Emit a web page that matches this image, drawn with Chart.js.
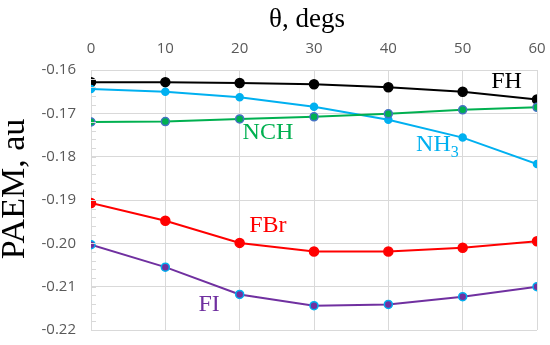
<!DOCTYPE html>
<html>
<head>
<meta charset="utf-8">
<script src="https://cdn.jsdelivr.net/npm/chart.js@4"></script>
<style>
  html, body { margin: 0; padding: 0; background: #fff; }
  #wrap { width: 550px; height: 345px; }
</style>
</head>
<body>
<div id="wrap"><canvas id="chart" width="550" height="345"></canvas></div>
<script>
const angles = [0, 10, 20, 30, 40, 50, 60];
const fhValues = [-0.1628, -0.1628, -0.1630, -0.1633, -0.1640, -0.1650, -0.1668];
const nh3Values = [-0.1644, -0.1650, -0.1663, -0.1685, -0.1715, -0.1756, -0.1817];
const nchValues = [-0.1720, -0.1719, -0.1713, -0.1708, -0.1701, -0.1692, -0.1686];
const fbrValues = [-0.1907, -0.1948, -0.1999, -0.2019, -0.2019, -0.2010, -0.1995];
const fiValues = [-0.2003, -0.2055, -0.2118, -0.2144, -0.2141, -0.2123, -0.2100];

const xTitle = "θ, degs";
const yTitle = "PAEM, au";

// series labels placed in data space
const seriesLabels = [
	{ text: "FH", sub: "", x: 55.9, y: -0.1628, color: "#000000" },
	{ text: "NCH", sub: "", x: 23.8, y: -0.1745, color: "#00b050" },
	{ text: "NH", sub: "3", x: 46.6, y: -0.1773, color: "#00b0f0" },
	{ text: "FBr", sub: "", x: 23.8, y: -0.1959, color: "#ff0000" },
	{ text: "FI", sub: "", x: 15.9, y: -0.2141, color: "#7030a0" },
];

function toPoints(values) {
	return angles.map((a, i) => ({ x: a, y: values[i] }));
}

const gridColor = "#d9d9d9";
const tickColor = "#595959";
const serif = "'Liberation Serif', 'DejaVu Serif', serif";
const sans = "'Open Sans', 'Liberation Sans', sans-serif";

// little inward minor ticks on the y axis
const minorTicks = {
	id: "minorTicks",
	afterDraw(chart) {
		const ctx = chart.ctx;
		const y = chart.scales.y;
		const left = chart.chartArea.left;
		ctx.save();
		ctx.strokeStyle = gridColor;
		ctx.lineWidth = 1;
		for (let v = -0.22; v <= -0.16 + 1e-9; v += 0.002) {
			const py = Math.round(y.getPixelForValue(v)) + 0.5;
			ctx.beginPath();
			ctx.moveTo(left, py);
			ctx.lineTo(left + 5, py);
			ctx.stroke();
		}
		ctx.restore();
	},
};

// axis titles, drawn by hand to sit where the original has them
const axisTitles = {
	id: "axisTitles",
	afterDraw(chart) {
		const ctx = chart.ctx;
		const area = chart.chartArea;
		ctx.save();
		ctx.fillStyle = "#000";
		ctx.textAlign = "center";
		ctx.textBaseline = "middle";
		ctx.font = "27px " + serif;
		ctx.fillText(xTitle, (area.left + area.right) / 2 - 7, 20);
		ctx.translate(15, (area.top + area.bottom) / 2 - 11);
		ctx.rotate(-Math.PI / 2);
		ctx.font = "34px " + serif;
		ctx.fillText(yTitle, 0, 0);
		ctx.restore();
	},
};

const seriesText = {
	id: "seriesText",
	afterDatasetsDraw(chart) {
		const ctx = chart.ctx;
		const xs = chart.scales.x;
		const ys = chart.scales.y;
		ctx.save();
		ctx.textBaseline = "middle";
		seriesLabels.forEach((l) => {
			const px = xs.getPixelForValue(l.x);
			const py = ys.getPixelForValue(l.y);
			ctx.fillStyle = l.color;
			ctx.font = "24px " + serif;
			const w = ctx.measureText(l.text).width;
			ctx.font = "16px " + serif;
			const ws = l.sub ? ctx.measureText(l.sub).width : 0;
			const start = px - (w + ws) / 2;
			ctx.textAlign = "left";
			ctx.font = "24px " + serif;
			ctx.fillText(l.text, start, py);
			if (l.sub) {
				ctx.font = "16px " + serif;
				ctx.fillText(l.sub, start + w, py + 8);
			}
		});
		ctx.restore();
	},
};

function makeSet(label, values, line, fill, border, radius) {
	return {
		label: label,
		data: toPoints(values),
		borderColor: line,
		backgroundColor: line,
		borderWidth: 2,
		pointBackgroundColor: fill,
		pointBorderColor: border,
		pointBorderWidth: 1.5,
		pointRadius: radius,
		tension: 0,
	};
}

// let layout.padding alone decide the plot edges
function zeroPadding(scale) {
	scale.paddingTop = 0;
	scale.paddingBottom = 0;
	scale.paddingLeft = 0;
	scale.paddingRight = 0;
}

new Chart(document.getElementById("chart").getContext("2d"), {
	type: "line",
	data: {
		datasets: [
			makeSet("FI", fiValues, "#7030a0", "#7030a0", "#00b0f0", 4),
			makeSet("FBr", fbrValues, "#ff0000", "#ff0000", "#ff0000", 4.5),
			makeSet("NCH", nchValues, "#00b050", "#00b050", "#4472c4", 4),
			makeSet("NH3", nh3Values, "#00b0f0", "#00b0f0", "#00b0f0", 3.5),
			makeSet("FH", fhValues, "#000000", "#000000", "#000000", 4.5),
		],
	},
	options: {
		responsive: false,
		animation: false,
		layout: { padding: { left: 0, right: 13, top: 0, bottom: 15 } },
		plugins: {
			legend: { display: false },
			tooltip: { enabled: false },
		},
		scales: {
			x: {
				type: "linear",
				position: "top",
				min: 0,
				max: 60,
				ticks: {
					stepSize: 10,
					color: tickColor,
					font: { family: sans, size: 15 },
					padding: 12,
				},
				grid: { color: gridColor, drawTicks: false },
				border: { color: gridColor },
				afterFit(scale) {
					scale.height = 70;
					zeroPadding(scale);
				},
			},
			y: {
				min: -0.22,
				max: -0.16,
				ticks: {
					stepSize: 0.01,
					color: tickColor,
					font: { family: sans, size: 15 },
					padding: 15,
					callback: (v) => v.toFixed(2),
				},
				grid: { color: gridColor, drawTicks: false },
				border: { color: gridColor },
				afterFit(scale) {
					scale.width = 91;
					zeroPadding(scale);
				},
			},
		},
	},
	plugins: [minorTicks, axisTitles, seriesText],
});
</script>
</body>
</html>
